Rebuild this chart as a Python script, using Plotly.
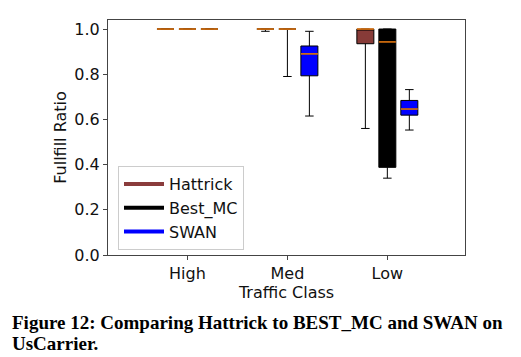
import plotly.graph_objects as go

categories = ["High", "Med", "Low"]
series = ["Hattrick", "Best_MC", "SWAN"]
# per class: [lower whisker, q1, median, q3, upper whisker]
hattrick = [[1.0, 1.0, 1.0, 1.0, 1.0], [0.99, 1.0, 1.0, 1.0, 1.0], [0.56, 0.935, 1.0, 1.0, 1.0]]
best_mc = [[1.0, 1.0, 1.0, 1.0, 1.0], [0.79, 1.0, 1.0, 1.0, 1.0], [0.34, 0.388, 0.943, 1.0, 1.0]]
swan = [[1.0, 1.0, 1.0, 1.0, 1.0], [0.615, 0.793, 0.89, 0.925, 0.99], [0.553, 0.619, 0.646, 0.684, 0.732]]
yticks = [0.0, 0.2, 0.4, 0.6, 0.8, 1.0]
caption = ["Figure 12: Comparing Hattrick to BEST_MC and SWAN on", "UsCarrier."]

data = [hattrick, best_mc, swan]
fills = ["#873b38", "#000000", "#0000ff"]
legend_colors = ["#8a3c3c", "#000000", "#0000ff"]
offsets = [-0.22, 0.0, 0.22]
bw = 0.17
median_color = "#f07d10"

# page offset (body margin) compensation
OFF = 8
L, T, R, B = 108, 20, 465, 255  # desired plot-area edges in page pixels
W, H = 521 - OFF, 357 - OFF

fig = go.Figure()
for s, name in enumerate(series):
    xs = [i + 1 + offsets[s] for i in range(len(categories))]
    vals = data[s]
    fig.add_trace(go.Box(
        x=xs,
        lowerfence=[v[0] for v in vals],
        q1=[v[1] for v in vals],
        median=[v[2] for v in vals],
        q3=[v[3] for v in vals],
        upperfence=[v[4] for v in vals],
        width=bw,
        whiskerwidth=0.5,
        fillcolor=fills[s],
        line=dict(color="#000000", width=1),
        showlegend=False,
        hoverinfo="skip",
    ))
for s, name in enumerate(series):
    mx, my = [], []
    for i in range(len(categories)):
        p = i + 1 + offsets[s]
        mx += [p - bw / 2, p + bw / 2, None]
        my += [data[s][i][2], data[s][i][2], None]
    fig.add_trace(go.Scatter(x=mx, y=my, mode="lines",
                             line=dict(color=median_color, width=1.5),
                             showlegend=False, hoverinfo="skip"))
for s, name in enumerate(series):
    fig.add_trace(go.Scatter(x=[None], y=[None], mode="lines", name=name,
                             line=dict(color=legend_colors[s], width=4)))

pw, ph = R - L, B - T
def px_x(x):
    return (x - L) / pw
def px_y(y):
    return (B - y) / ph

font = "DejaVu Sans"
fig.update_layout(
    width=W, height=H,
    margin=dict(l=L - OFF, r=W + OFF - R, t=T - OFF, b=H + OFF - B, autoexpand=False),
    plot_bgcolor="white", paper_bgcolor="white",
    font=dict(family=font, size=16, color="#111111"),
    legend=dict(x=px_x(118), y=px_y(166), xanchor="left", yanchor="top",
                bordercolor="#cccccc", borderwidth=1, bgcolor="rgba(255,255,255,0.8)",
                font=dict(size=16), tracegroupgap=0, itemwidth=40),
    xaxis=dict(range=[0.205, 3.777], tickvals=[1, 2, 3], ticktext=categories,
               showline=True, mirror=True, linecolor="#444444", linewidth=1,
               ticks="outside", ticklen=4, tickcolor="#444444", showgrid=False,
               zeroline=False,
               title=dict(text="Traffic Class", standoff=2, font=dict(size=16))),
    yaxis=dict(range=[0, 1.04], tickvals=yticks, ticktext=[f"{v:.1f}" for v in yticks],
               showline=True, mirror=True, linecolor="#444444", linewidth=1,
               ticks="outside", ticklen=4, tickcolor="#444444", showgrid=False,
               zeroline=False,
               title=dict(text="Fullfill Ratio", standoff=3, font=dict(size=16))),
)
for k, (line, top) in enumerate(zip(caption, [310, 331])):
    fig.add_annotation(text=f"<b>{line}</b>",
                       xref="paper", yref="paper", x=px_x(10), y=px_y(top),
                       xanchor="left", yanchor="top", showarrow=False, align="left",
                       font=dict(family="Liberation Serif", size=19, color="#000000"))
fig.write_html("out.html")
